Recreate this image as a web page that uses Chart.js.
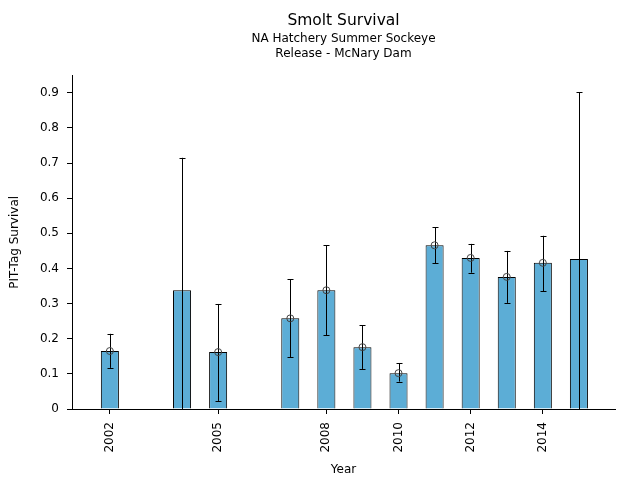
<!DOCTYPE html>
<html>
<head>
<meta charset="utf-8">
<title>Smolt Survival</title>
<script src="https://cdn.jsdelivr.net/npm/chart.js@4/dist/chart.umd.min.js"></script>
<style>
    html, body { margin: 0; padding: 0; background: #fff; }
    canvas { display: block; }
</style>
</head>
<body>
<canvas id="survivalChart" width="640" height="480"></canvas>
<script>
// ========== DATA ==========
const years = [2002, 2004, 2005, 2007, 2008, 2009, 2010, 2011, 2012, 2013, 2014, 2015];
const survival = [0.165, 0.338, 0.162, 0.258, 0.338, 0.176, 0.102, 0.466, 0.430, 0.376, 0.416, 0.427];
const lowerCI = [0.117, 0.0, 0.023, 0.147, 0.210, 0.114, 0.078, 0.415, 0.388, 0.302, 0.335, 0.0];
const upperCI = [0.214, 0.715, 0.299, 0.370, 0.466, 0.239, 0.131, 0.518, 0.470, 0.450, 0.493, 0.902];
// point estimate markers (none shown for 2004 and 2015)
const estimates = [0.165, null, 0.162, 0.258, 0.338, 0.176, 0.102, 0.466, 0.430, 0.376, 0.416, null];
const yearTicks = [2002, 2005, 2008, 2010, 2012, 2014];
const survivalTicks = [0, 0.1, 0.2, 0.3, 0.4, 0.5, 0.6, 0.7, 0.8, 0.9];

const FONT = 'DejaVu Sans';

// ========== ERROR BARS ==========
const errorBars = {
    id: 'errorBars',
    afterDatasetDraw(chart, args) {
        if (args.index !== 1) return;
        const ctx = chart.ctx;
        const xs = chart.scales.x;
        const ys = chart.scales.y;
        ctx.save();
        ctx.strokeStyle = '#000';
        ctx.lineWidth = 1;
        years.forEach((yr, i) => {
            const x = Math.round(xs.getPixelForValue(yr)) + 0.5;
            const yTop = ys.getPixelForValue(upperCI[i]);
            const yBot = ys.getPixelForValue(lowerCI[i]);
            ctx.beginPath();
            ctx.moveTo(x, yTop);
            ctx.lineTo(x, yBot);
            ctx.moveTo(x - 3, Math.round(yTop) + 0.5);
            ctx.lineTo(x + 3, Math.round(yTop) + 0.5);
            ctx.moveTo(x - 3, Math.round(yBot) + 0.5);
            ctx.lineTo(x + 3, Math.round(yBot) + 0.5);
            ctx.stroke();
        });
        ctx.restore();
    }
};

// ========== CHART ==========
new Chart(document.getElementById('survivalChart').getContext('2d'), {
    type: 'bar',
    data: {
        datasets: [{
            type: 'line',
            data: years.map((yr, i) => ({ x: yr, y: estimates[i] })),
            showLine: false,
            pointStyle: 'circle',
            pointRadius: 3.5,
            pointBorderWidth: 1,
            pointBorderColor: '#444',
            pointBackgroundColor: 'rgba(0,0,0,0)'
        }, {
            data: years.map((yr, i) => ({ x: yr, y: survival[i] })),
            backgroundColor: '#5cadd6',
            borderColor: '#000',
            borderWidth: 1,
            barPercentage: 0.5,
            categoryPercentage: 1.0
        }]
    },
    options: {
        responsive: false,
        devicePixelRatio: 1,
        animation: false,
        layout: { padding: { left: 0, right: 25, top: 0, bottom: 0 } },
        plugins: {
            legend: { display: false },
            tooltip: { enabled: false },
            title: {
                display: true,
                fullSize: false,
                text: 'Smolt Survival',
                color: '#000',
                font: { family: FONT, size: 15.5, weight: 'normal' },
                padding: { top: 12, bottom: 0 }
            },
            subtitle: {
                display: true,
                fullSize: false,
                text: ['NA Hatchery Summer Sockeye', 'Release - McNary Dam'],
                color: '#000',
                font: { family: FONT, size: 12, lineHeight: 1.25 },
                padding: { top: 1, bottom: 14 }
            }
        },
        scales: {
            x: {
                type: 'linear',
                offset: false,
                min: 2000.95,
                max: 2016.0,
                afterBuildTicks: scale => {
                    scale.ticks = yearTicks.map(v => ({ value: v }));
                },
                afterFit: scale => { scale.height = 71; },
                ticks: {
                    color: '#000',
                    font: { family: FONT, size: 12 },
                    minRotation: 90,
                    maxRotation: 90,
                    padding: 8,
                    callback: v => String(v)
                },
                grid: { offset: false, drawOnChartArea: false, drawTicks: true, tickLength: 5, color: '#000' },
                border: { display: true, color: '#000' },
                title: {
                    display: true,
                    text: 'Year',
                    color: '#000',
                    font: { family: FONT, size: 12 },
                    padding: { top: 0, bottom: 3 }
                }
            },
            y: {
                min: 0,
                max: 0.949,
                afterBuildTicks: scale => {
                    scale.ticks = survivalTicks.map(v => ({ value: v }));
                },
                afterFit: scale => { scale.width = 72; },
                ticks: {
                    color: '#000',
                    font: { family: FONT, size: 12 },
                    padding: 8,
                    callback: v => String(v)
                },
                grid: { drawOnChartArea: false, drawTicks: true, tickLength: 5, color: '#000' },
                border: { display: true, color: '#000' },
                title: {
                    display: true,
                    text: 'PIT-Tag Survival',
                    color: '#000',
                    font: { family: FONT, size: 12 },
                    padding: { top: 8, bottom: 0 }
                }
            }
        }
    },
    plugins: [errorBars]
});
</script>
</body>
</html>
